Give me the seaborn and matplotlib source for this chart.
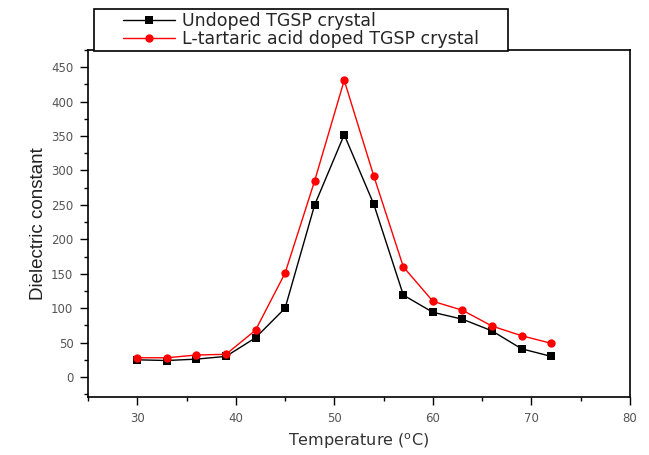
import matplotlib
matplotlib.use("Agg")
import matplotlib.pyplot as plt
from matplotlib.ticker import MultipleLocator
from matplotlib.patches import Rectangle
import seaborn as sns
import pandas as pd

temperature = [30, 33, 36, 39, 42, 45, 48, 51, 54, 57, 60, 63, 66, 69, 72]
undoped = [25, 24, 26, 30, 57, 100, 250, 352, 251, 119, 94, 84, 67, 41, 30]
doped = [28, 28, 32, 33, 68, 151, 285, 431, 292, 160, 110, 97, 74, 60, 49]
labels = ["Undoped TGSP crystal", "L-tartaric acid doped TGSP crystal"]

sns.set_style("ticks")
plt.rcParams['font.family'] = ['DejaVu Sans']

fig = plt.figure(figsize=(6.49, 4.55), dpi=100)
ax = fig.add_axes([88 / 649, 1 - 397 / 455, 542 / 649, 347 / 455])

df1 = pd.DataFrame({"T": temperature, "v": undoped})
df2 = pd.DataFrame({"T": temperature, "v": doped})
sns.lineplot(data=df1, x="T", y="v", ax=ax, color="black", marker="s",
             markersize=5.2, markeredgewidth=0, linewidth=1.0, label=labels[0])
sns.lineplot(data=df2, x="T", y="v", ax=ax, color="#ff0000", marker="o",
             markersize=6, markeredgewidth=0, linewidth=1.0, label=labels[1])

ax.set_xlim(25, 80)
ax.set_ylim(-29, 475)
ax.xaxis.set_major_locator(MultipleLocator(10))
ax.xaxis.set_minor_locator(MultipleLocator(5))
ax.yaxis.set_major_locator(MultipleLocator(50))
ax.yaxis.set_minor_locator(MultipleLocator(25))
ax.tick_params(axis="both", which="major", direction="out", length=5.5, width=1,
               labelsize=8.5, labelcolor="#555555", color="black", pad=5)
ax.tick_params(axis="both", which="minor", direction="out", length=3, width=1, color="black")
for s in ax.spines.values():
    s.set_linewidth(1.2)
    s.set_color("black")

ax.set_xlabel("Temperature ($^{\\mathrm{o}}$C)", fontsize=11.5, color="#333333", labelpad=5)
ax.set_ylabel("Dielectric constant", fontsize=13.5, color="#222222", labelpad=3,
              family=['Liberation Sans Narrow', 'Liberation Sans', 'DejaVu Sans'])

handles, labs = ax.get_legend_handles_labels()
ax.get_legend().remove()
leg = fig.legend(handles, labs, loc="upper left", bbox_to_anchor=(123 / 649, 1 - 12 / 455),
                 bbox_transform=fig.transFigure, fontsize=12.5, frameon=False,
                 borderpad=0.0, handlelength=3.0, handletextpad=0.4,
                 labelspacing=0.02, borderaxespad=0)
leg.set_zorder(10)

fig.canvas.draw()
bb = leg.get_window_extent()
padx, pady = 29, 3
rect = Rectangle((bb.x0 - padx, bb.y0 - pady), bb.width + 2 * padx, bb.height + 2 * pady,
                 transform=None, facecolor="white", edgecolor="black",
                 linewidth=1.2, zorder=9)
fig.add_artist(rect)

fig.savefig("out.png", dpi=100)
